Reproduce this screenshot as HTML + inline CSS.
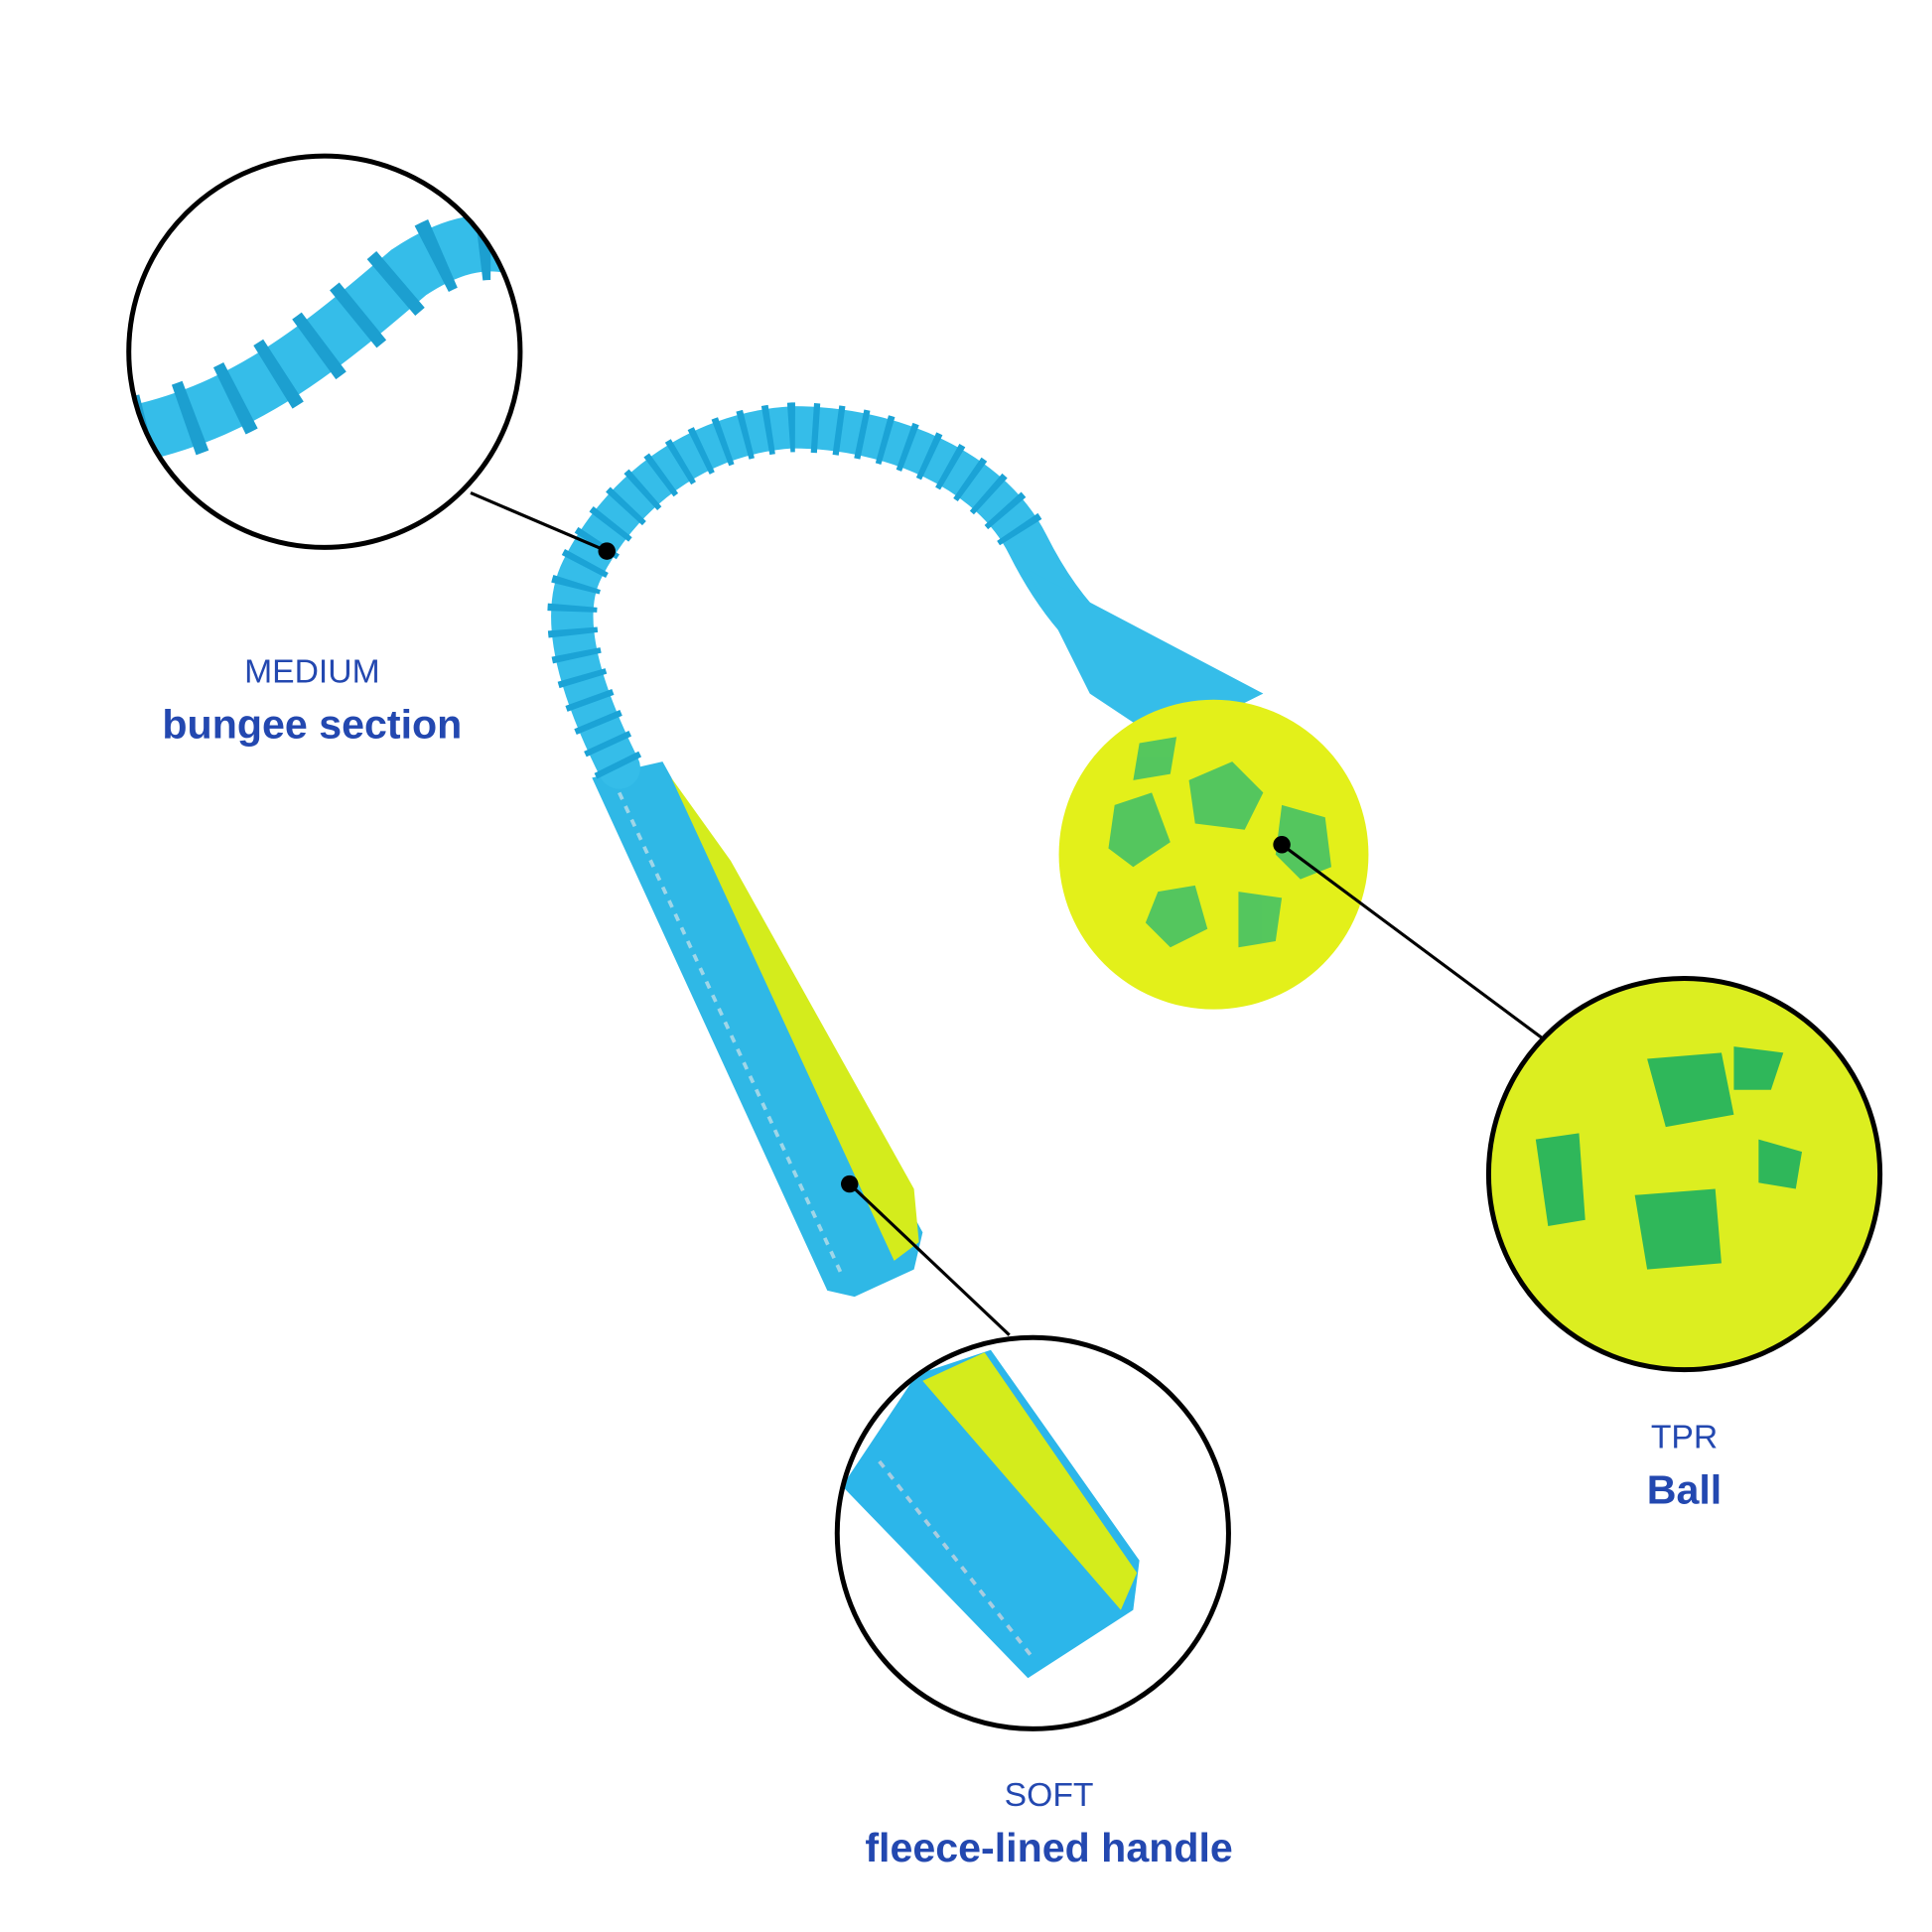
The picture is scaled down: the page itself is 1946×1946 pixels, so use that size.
<!DOCTYPE html>
<html><head><meta charset="utf-8"><style>
html,body{margin:0;padding:0;background:#fff;}
svg{display:block}
text{font-family:"Liberation Sans",sans-serif;fill:#2348b0;text-anchor:middle}
</style></head><body>
<svg width="1946" height="1946" viewBox="0 0 1560 1560" xmlns="http://www.w3.org/2000/svg">
<defs>
<clipPath id="c1"><circle cx="262" cy="284" r="158"/></clipPath>
<clipPath id="c2"><circle cx="1360" cy="948" r="158"/></clipPath>
<clipPath id="c3"><circle cx="834" cy="1238" r="158"/></clipPath>
</defs>
<!-- handle strap -->
<path d="M478 628 L535 615 L745 995 L738 1025 L690 1047 L668 1042 Z" fill="#2fb8e6"/>
<path d="M542 628 L590 695 L738 960 L742 1003 L722 1018 Z" fill="#d4ec1c"/>
<path d="M500 640 L680 1030" stroke="#9fd6e8" stroke-width="3" stroke-dasharray="6 6" fill="none"/>
<!-- bungee -->
<path d="M500 620 C470 560 450 500 470 460 C500 400 560 350 640 345 C720 345 800 380 830 440 C860 500 900 540 960 560" fill="none" stroke="#35bde9" stroke-width="34" stroke-linecap="round"/>
<path d="M500 620 C470 560 450 500 470 460 C500 400 560 350 640 345 C720 345 800 380 830 440" fill="none" stroke="#1ba3d6" stroke-width="40" stroke-dasharray="5 14"/>
<path d="M830 460 L1020 560 L940 600 L880 560 Z" fill="#35bde9"/>
<!-- ball -->
<circle cx="980" cy="690" r="125" fill="#e3f01a"/>
<g fill="#3cbf6a" opacity="0.85">
<polygon points="960,630 995,615 1020,640 1005,670 965,665"/>
<polygon points="900,650 930,640 945,680 915,700 895,685"/>
<polygon points="1035,650 1070,660 1075,700 1050,710 1030,690"/>
<polygon points="935,720 965,715 975,750 945,765 925,745"/>
<polygon points="1000,720 1035,725 1030,760 1000,765"/>
<polygon points="920,600 950,595 945,625 915,630"/>
</g>
<!-- zoom circles -->
<g clip-path="url(#c1)">
<path d="M110 350 C200 330 260 280 330 220 C360 200 390 190 420 200" stroke="#35bde9" stroke-width="46" fill="none"/>
<path d="M110 350 C200 330 260 280 330 220 C360 200 390 190 420 200" stroke="#1c9fd0" stroke-width="60" stroke-dasharray="10 30" fill="none"/>
</g>
<g clip-path="url(#c2)">
<rect x="1190" y="780" width="340" height="340" fill="#dcee20"/>
<g fill="#2fb75a">
<polygon points="1330,855 1390,850 1400,900 1345,910"/>
<polygon points="1320,965 1385,960 1390,1020 1330,1025"/>
<polygon points="1240,920 1275,915 1280,985 1250,990"/>
<polygon points="1420,920 1455,930 1450,960 1420,955"/>
<polygon points="1400,845 1440,850 1430,880 1400,880"/>
</g>
</g>
<g clip-path="url(#c3)">
<path d="M680 1200 L740 1110 L800 1090 L920 1260 L915 1300 L830 1355 Z" fill="#2cb6ea"/>
<path d="M745 1115 L795 1092 L918 1270 L905 1300 Z" fill="#d4ec1c"/>
<path d="M710 1180 L835 1340" stroke="#a9cde0" stroke-width="3" stroke-dasharray="6 6"/>
</g>
<g fill="none" stroke="#000" stroke-width="4">
<circle cx="262" cy="284" r="158"/>
<circle cx="1360" cy="948" r="158"/>
<circle cx="834" cy="1238" r="158"/>
</g>
<g stroke="#000" stroke-width="2.5">
<line x1="380" y1="398" x2="490" y2="445"/>
<line x1="1035" y1="682" x2="1245" y2="838"/>
<line x1="686" y1="956" x2="815" y2="1078"/>
</g>
<g fill="#000">
<circle cx="490" cy="445" r="7"/>
<circle cx="1035" cy="682" r="7"/>
<circle cx="686" cy="956" r="7"/>
</g>
<text x="252" y="551" font-size="27">MEDIUM</text>
<text x="252" y="596" font-size="33" font-weight="bold">bungee section</text>
<text x="1360" y="1169" font-size="27">TPR</text>
<text x="1360" y="1214" font-size="33" font-weight="bold">Ball</text>
<text x="847" y="1458" font-size="27">SOFT</text>
<text x="847" y="1503" font-size="33" font-weight="bold">fleece-lined handle</text>
</svg>
</body></html>
